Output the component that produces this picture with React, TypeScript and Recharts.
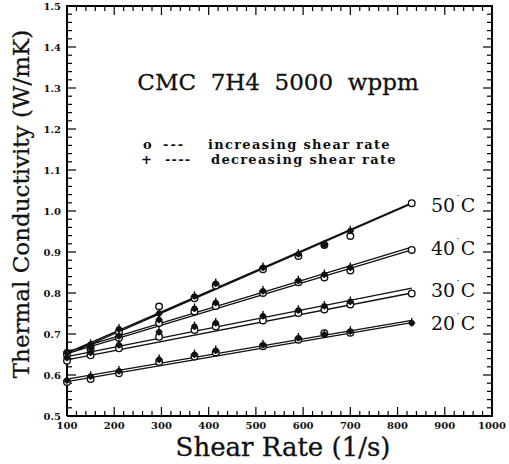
import { ComposedChart, Line, Scatter, XAxis, YAxis } from "recharts";

// shear rates (1/s) where the conductivity was measured
const shear = [100, 150, 210, 295, 370, 415, 515, 590, 645, 700, 830];

// thermal conductivity (W/mK), o = increasing, + = decreasing shear rate
const inc50 = [0.652, 0.670, 0.705, 0.767, 0.787, 0.818, 0.858, 0.890, 0.917, 0.939, 1.019];
const dec50 = [0.657, 0.675, 0.712, 0.750, 0.792, 0.823, 0.862, 0.895, 0.917, 0.952];
const inc40 = [0.650, 0.662, 0.690, 0.727, 0.755, 0.768, 0.800, 0.826, 0.838, 0.855, 0.905];
const dec40 = [0.655, 0.667, 0.695, 0.735, 0.762, 0.776, 0.805, 0.830, 0.845, 0.862];
const inc30 = [0.635, 0.648, 0.665, 0.693, 0.710, 0.718, 0.733, 0.751, 0.760, 0.772, 0.799];
const dec30 = [0.642, 0.655, 0.673, 0.705, 0.718, 0.727, 0.744, 0.758, 0.768, 0.779];
const inc20 = [0.583, 0.590, 0.604, 0.632, 0.645, 0.655, 0.670, 0.686, 0.702, 0.703];
const dec20 = [0.587, 0.597, 0.610, 0.638, 0.650, 0.660, 0.673, 0.690, 0.698, 0.707, 0.727];

// fitted lines: [value at 100 1/s, value at 830 1/s]
const fitX = [100, 830];
const fitInc50 = [0.650, 1.018];
const fitDec50 = [0.654, 1.02];
const fitInc40 = [0.652, 0.905];
const fitDec40 = [0.657, 0.912];
const fitInc30 = [0.637, 0.8];
const fitDec30 = [0.645, 0.812];
const fitInc20 = [0.584, 0.728];
const fitDec20 = [0.59, 0.733];

const xMajor = [100, 200, 300, 400, 500, 600, 700, 800, 900, 1000];
const yMajor = [0.5, 0.6, 0.7, 0.8, 0.9, 1.0, 1.1, 1.2, 1.3, 1.4, 1.5];
const X0 = 100, X1 = 1000, Y0 = 0.5, Y1 = 1.5;

const subdivide = (major: number[], n: number) => {
  const out: number[] = [];
  major.forEach((m, i) => {
    if (i === major.length - 1) {
      out.push(m);
      return;
    }
    const step = (major[i + 1] - m) / n;
    for (let k = 0; k < n; k++) out.push(+(m + k * step).toFixed(4));
  });
  return out;
};
const xTicks = subdivide(xMajor, 5);
const yTicks = subdivide(yMajor, 5);

const isMajor = (v: number, list: number[]) => list.some((m) => Math.abs(m - v) < 1e-6);

// one series per marker type, one line series for all fits (null = gap)
const pts = (sets: number[][]) => sets.flatMap((vals) => vals.map((y, i) => ({ x: shear[i], y })));
const openPts = pts([inc50, inc40, inc30, inc20]);
const plusPts = pts([dec50, dec40, dec30, dec20]);
const fitPts = [fitInc50, fitDec50, fitInc40, fitDec40, fitInc30, fitDec30, fitInc20, fitDec20].flatMap(
  (f) => [
    { x: fitX[0], y: f[0] },
    { x: fitX[1], y: f[1] },
    { x: fitX[1], y: null },
  ]
);

// plot frame and inward tick marks, in data units
const frame = [
  { x: X0, y: Y0 },
  { x: X1, y: Y0 },
  { x: X1, y: Y1 },
  { x: X0, y: Y1 },
  { x: X0, y: Y0 },
];
const tickMarks = [
  ...xTicks.map((x) => ({ x, y: Y0, ox: 0, oy: -1, len: isMajor(x, xMajor) ? 9 : 5 })),
  ...xTicks.map((x) => ({ x, y: Y1, ox: 0, oy: 1, len: isMajor(x, xMajor) ? 9 : 5 })),
  ...yTicks.map((y) => ({ x: X0, y, ox: 1, oy: 0, len: isMajor(y, yMajor) ? 9 : 5 })),
  ...yTicks.map((y) => ({ x: X1, y, ox: -1, oy: 0, len: isMajor(y, yMajor) ? 9 : 5 })),
];

const INK = "#111";
const FRAME = "black";
const serif = "'DejaVu Serif', 'Liberation Serif', serif";

const tickStyle = {
  fontFamily: serif,
  fontSize: 10,
  fontWeight: 700,
  fill: INK,
};

const TickMark = (props: any) => {
  const { cx, cy } = props;
  const p = props.payload || props;
  const len = p.len ?? 5;
  const ox = p.ox ?? 0;
  const oy = p.oy ?? 0;
  return (
    <path
      d={`M${cx} ${cy}L${cx + ox * len} ${cy + oy * len}`}
      stroke={FRAME}
      strokeWidth={1.2}
      fill="none"
    />
  );
};

const OpenDot = ({ cx, cy }: any) => (
  <circle cx={cx} cy={cy} r={3.3} fill="#fff" stroke={INK} strokeWidth={1.4} />
);

const PlusDot = ({ cx, cy }: any) => (
  <g>
    <circle cx={cx} cy={cy} r={3} fill={INK} />
    <path d={`M${cx - 3.5} ${cy}H${cx + 3.5}M${cx} ${cy - 5}V${cy + 3.5}`} stroke={INK} strokeWidth={1.4} />
  </g>
);

const tempLabels = [
  { t: "50", y: 212 },
  { t: "40", y: 255 },
  { t: "30", y: 297 },
  { t: "20", y: 330 },
];

const legendFont = {
  fontFamily: serif,
  fontSize: 13,
  fontWeight: 700,
  fill: INK,
};

export default function App() {
  return (
    <div style={{ position: "absolute", left: 0, top: 0, width: 509, height: 464, background: "#fff" }}>
      <ComposedChart width={509} height={464} margin={{ top: 6, right: 17, left: 0, bottom: 0 }}>
        <XAxis
          dataKey="x"
          type="number"
          domain={[X0, X1]}
          ticks={xMajor}
          height={48}
          tickSize={6}
          tickMargin={0}
          tickLine={false}
          axisLine={{ stroke: FRAME, strokeWidth: 2 }}
          tick={tickStyle}
        />
        <YAxis
          type="number"
          domain={[Y0, Y1]}
          ticks={yMajor}
          width={67}
          tickSize={6}
          tickMargin={0}
          tickLine={false}
          axisLine={{ stroke: FRAME, strokeWidth: 2 }}
          tick={tickStyle}
          tickFormatter={(v: number) => v.toFixed(1)}
        />
        <Line
          data={frame}
          dataKey="y"
          type="linear"
          dot={false}
          stroke={FRAME}
          strokeWidth={2}
          isAnimationActive={false}
        />
        <Scatter data={tickMarks} dataKey="y" shape={TickMark} isAnimationActive={false} />
        <Line
          data={fitPts}
          dataKey="y"
          type="linear"
          dot={false}
          stroke={INK}
          strokeWidth={1.3}
          isAnimationActive={false}
        />
        <Scatter data={openPts} dataKey="y" shape={<OpenDot />} isAnimationActive={false} />
        <Scatter data={plusPts} dataKey="y" shape={<PlusDot />} isAnimationActive={false} />
      </ComposedChart>
      <svg
        width={509}
        height={464}
        style={{ position: "absolute", left: 0, top: 0, pointerEvents: "none" }}
      >
        <text
          x={278}
          y={90}
          textAnchor="middle"
          fontFamily={serif}
          fontSize={23}
          fill={INK}
          stroke={INK}
          strokeWidth={0.3}
          style={{ whiteSpace: "pre" }}
        >
          {"CMC  7H4  5000  wppm"}
        </text>
        <text x={143} y={149} {...legendFont}>o</text>
        <text x={163} y={149} {...legendFont} letterSpacing={2}>---</text>
        <text x={208} y={149} {...legendFont} letterSpacing={1.3}>increasing shear rate</text>
        <text x={141} y={164} {...legendFont}>+</text>
        <text x={165} y={164} {...legendFont} letterSpacing={1.2}>----</text>
        <text x={211} y={164} {...legendFont} letterSpacing={1.3}>decreasing shear rate</text>
        {tempLabels.map((l) => (
          <text key={l.t} x={431} y={l.y} fontFamily={serif} fontSize={19} fill={INK}>
            {l.t}
            <tspan fontSize={11} dy={-8}>˙</tspan>
            <tspan dy={8}>C</tspan>
          </text>
        ))}
        <text
          x={283}
          y={456}
          textAnchor="middle"
          fontFamily={serif}
          fontSize={26}
          fill={INK}
          stroke={INK}
          strokeWidth={0.3}
        >
          Shear Rate (1/s)
        </text>
        <text
          transform="translate(29 204) rotate(-90)"
          textAnchor="middle"
          fontFamily={serif}
          fontSize={23}
          fill={INK}
          stroke={INK}
          strokeWidth={0.3}
        >
          Thermal Conductivity (W/mK)
        </text>
      </svg>
    </div>
  );
}
